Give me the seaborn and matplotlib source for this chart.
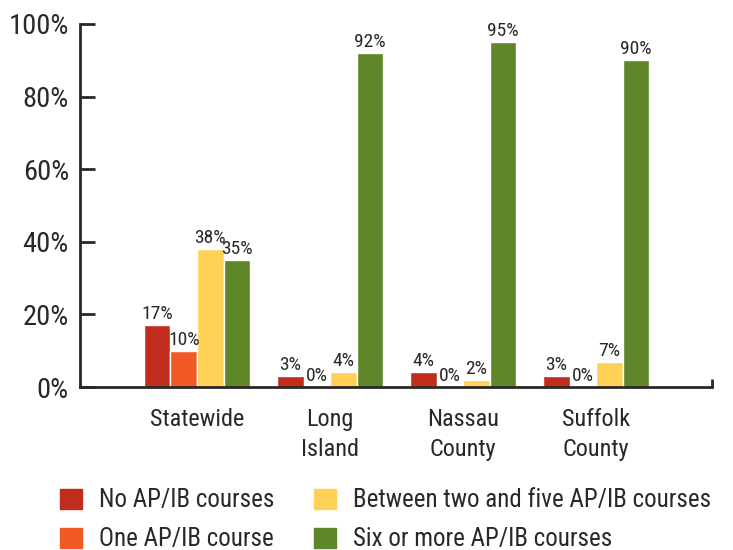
import pandas as pd
import matplotlib.pyplot as plt
import seaborn as sns

# Data
regions = ['Statewide', 'Long\nIsland', 'Nassau\nCounty', 'Suffolk\nCounty']
series = ['No AP/IB courses', 'One AP/IB course',
          'Between two and five AP/IB courses', 'Six or more AP/IB courses']
no_ap = [17, 3, 4, 3]
one_ap = [10, 0, 0, 0]
two_to_five = [38, 4, 2, 7]
six_plus = [35, 92, 95, 90]
colors = ['#C12D1C', '#F15A24', '#FFD257', '#5D8728']

rows = []
for name, vals in zip(series, [no_ap, one_ap, two_to_five, six_plus]):
    for region, v in zip(regions, vals):
        rows.append({'region': region, 'series': name, 'pct': v})
df = pd.DataFrame(rows)

sns.set_style('ticks')
plt.rcParams['font.family'] = ['Roboto Condensed', 'DejaVu Sans']
ink = '#2B2727'

fig = plt.figure(figsize=(7.33, 5.5), dpi=100)
ax = fig.add_axes([80 / 733, 1 - 387 / 550, 632 / 733, 363 / 550])
sns.barplot(data=df, x='region', y='pct', hue='series', hue_order=series,
            palette=colors, width=0.8, saturation=1, ax=ax, legend=False)

for cont in ax.containers:
    vals = [b.get_height() for b in cont]
    ax.bar_label(cont, labels=[f'{v:.0f}%' for v in vals], padding=1.5,
                 fontsize=14, color=ink)

ax.set_ylim(0, 100)
ax.set_xlim(-0.88, 3.87)
ax.set_yticks([0, 20, 40, 60, 80, 100])
ax.set_yticklabels([f'{t}%' for t in [0, 20, 40, 60, 80, 100]])
ax.set_xlabel('')
ax.set_ylabel('')
sns.despine(ax=ax)
for s in ['left', 'bottom']:
    ax.spines[s].set_color(ink)
    ax.spines[s].set_linewidth(2)
ax.tick_params(axis='y', direction='in', length=11, width=2, color=ink,
               labelsize=20.5, labelcolor=ink, pad=8)
ax.tick_params(axis='x', length=0, labelsize=17.5, labelcolor=ink, pad=15)
ax.set_xticks([3.87], minor=True)
ax.tick_params(axis='x', which='minor', direction='in', length=6, width=2,
               color=ink)
for lab in ax.get_xticklabels():
    lab.set_linespacing(1.38)

handles = [plt.Rectangle((0, 0), 1, 1, color=c) for c in colors]
fig.legend(handles, series, ncol=2, loc='upper left',
           bbox_to_anchor=(0.082, 0.112), frameon=False, fontsize=18,
           handlelength=0.88, handleheight=0.88, handletextpad=0.68,
           columnspacing=1.6, labelspacing=0.6, borderpad=0,
           borderaxespad=0, labelcolor=ink)

plt.savefig('out.png', dpi=100)
